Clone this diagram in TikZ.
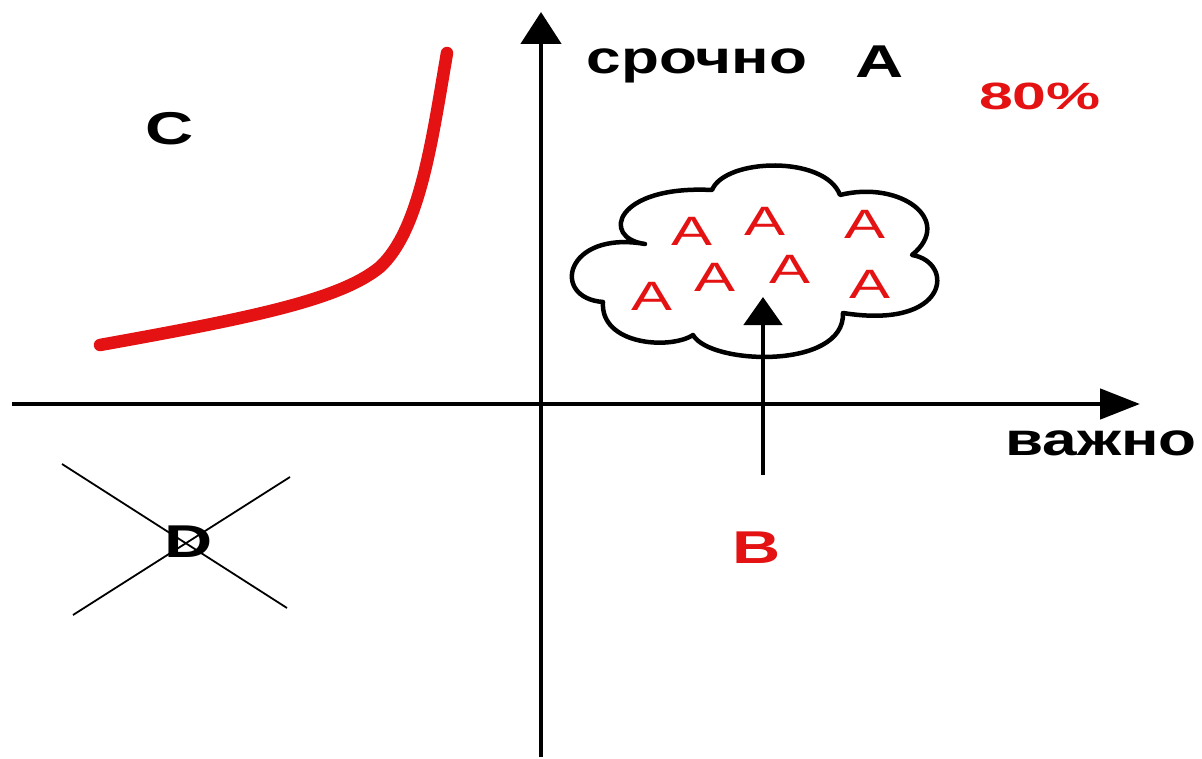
\documentclass[tikz,border=0pt]{standalone}
\usepackage{fontspec}
\setmainfont{Liberation Sans}
\usepackage{graphicx}
\usetikzlibrary{arrows.meta}
\definecolor{myred}{RGB}{228,18,18}
\newcommand{\widen}[2]{\scalebox{#1}[1]{#2}}
\tikzset{
  vaxis/.style={line width=4.8pt, -{Triangle[length=32pt,width=40pt]}},
  haxis/.style={line width=4.8pt, -{Triangle[length=40pt,width=30pt]}},
  barrow/.style={line width=4.8pt, -{Triangle[length=28pt,width=38pt]}},
  lbl/.style={inner sep=0pt, anchor=base, font=\bfseries\fontsize{46}{46}\selectfont},
  redlbl/.style={lbl, text=myred},
  pct/.style={inner sep=0pt, anchor=base, text=myred, font=\bfseries\fontsize{38}{38}\selectfont},
  cloudA/.style={inner sep=0pt, anchor=base, text=myred, font=\fontsize{41}{41}\selectfont},
  cloudline/.style={line width=4.5pt, line join=round},
  curve/.style={line width=12.5pt, myred, line cap=round},
  cross/.style={line width=1.8pt}
}
\begin{document}
\begin{tikzpicture}[x=1pt,y=-1pt]
\useasboundingbox (0,0) rectangle (1202,759);
\fill[white] (0,0) rectangle (1202,759);
% axes
\coordinate (ybot) at (541,757);
\coordinate (ytop) at (541,12);
\coordinate (xleft) at (12,404);
\coordinate (xright) at (1140,404);
\draw[vaxis] (ybot) -- (ytop);
\draw[haxis] (xleft) -- (xright);
% red curve
\coordinate (c0) at (100,345);
\coordinate (c1) at (380,267);
\coordinate (c2) at (447,53);
\draw[curve] (c0) .. controls (250,318) and (340,300) .. (c1) .. controls (420,230) and (432,140) .. (c2);
% cloud
\draw[cloudline] (645,244) .. controls (600,238) and (615,185) .. (712,190)
  .. controls (725,158) and (825,155) .. (840,195)
  .. controls (900,180) and (955,220) .. (912,255)
  .. controls (955,262) and (950,330) .. (843,313)
  .. controls (845,370) and (710,365) .. (693,335)
  .. controls (670,350) and (600,345) .. (603,302)
  .. controls (550,298) and (565,230) .. cycle;
% letters in cloud
\node[cloudA] (a1) at (692,246) {\widen{1.5}{A}};
\node[cloudA] (a2) at (765,236) {\widen{1.5}{A}};
\node[cloudA] (a3) at (865,239) {\widen{1.5}{A}};
\node[cloudA] (a4) at (652,311) {\widen{1.5}{A}};
\node[cloudA] (a5) at (715,291) {\widen{1.5}{A}};
\node[cloudA] (a6) at (790,284) {\widen{1.5}{A}};
\node[cloudA] (a7) at (870,299) {\widen{1.5}{A}};
% B arrow
\coordinate (bfrom) at (763,475);
\coordinate (btip) at (763,297);
\draw[barrow] (bfrom) -- (btip);
% labels
\node[lbl] (srochno) at (697,74) {\widen{1.35}{срочно}};
\node[lbl] (topA) at (880,78) {\widen{1.45}{А}};
\node[pct] (p80) at (1040,110) {\widen{1.6}{80\%}};
\node[lbl] (C) at (170,145) {\widen{1.45}{C}};
\node[redlbl] (B) at (757,563) {\widen{1.45}{B}};
\node[lbl] (vazhno) at (1101,455) {\widen{1.35}{важно}};
% D with crossing lines
\coordinate (d1a) at (62,464);
\coordinate (d1b) at (287,608);
\coordinate (d2a) at (290,477);
\coordinate (d2b) at (73,615);
\draw[cross] (d1a) -- (d1b);
\draw[cross] (d2a) -- (d2b);
\node[lbl] (D) at (189,557) {\widen{1.45}{D}};
\end{tikzpicture}
\end{document}
